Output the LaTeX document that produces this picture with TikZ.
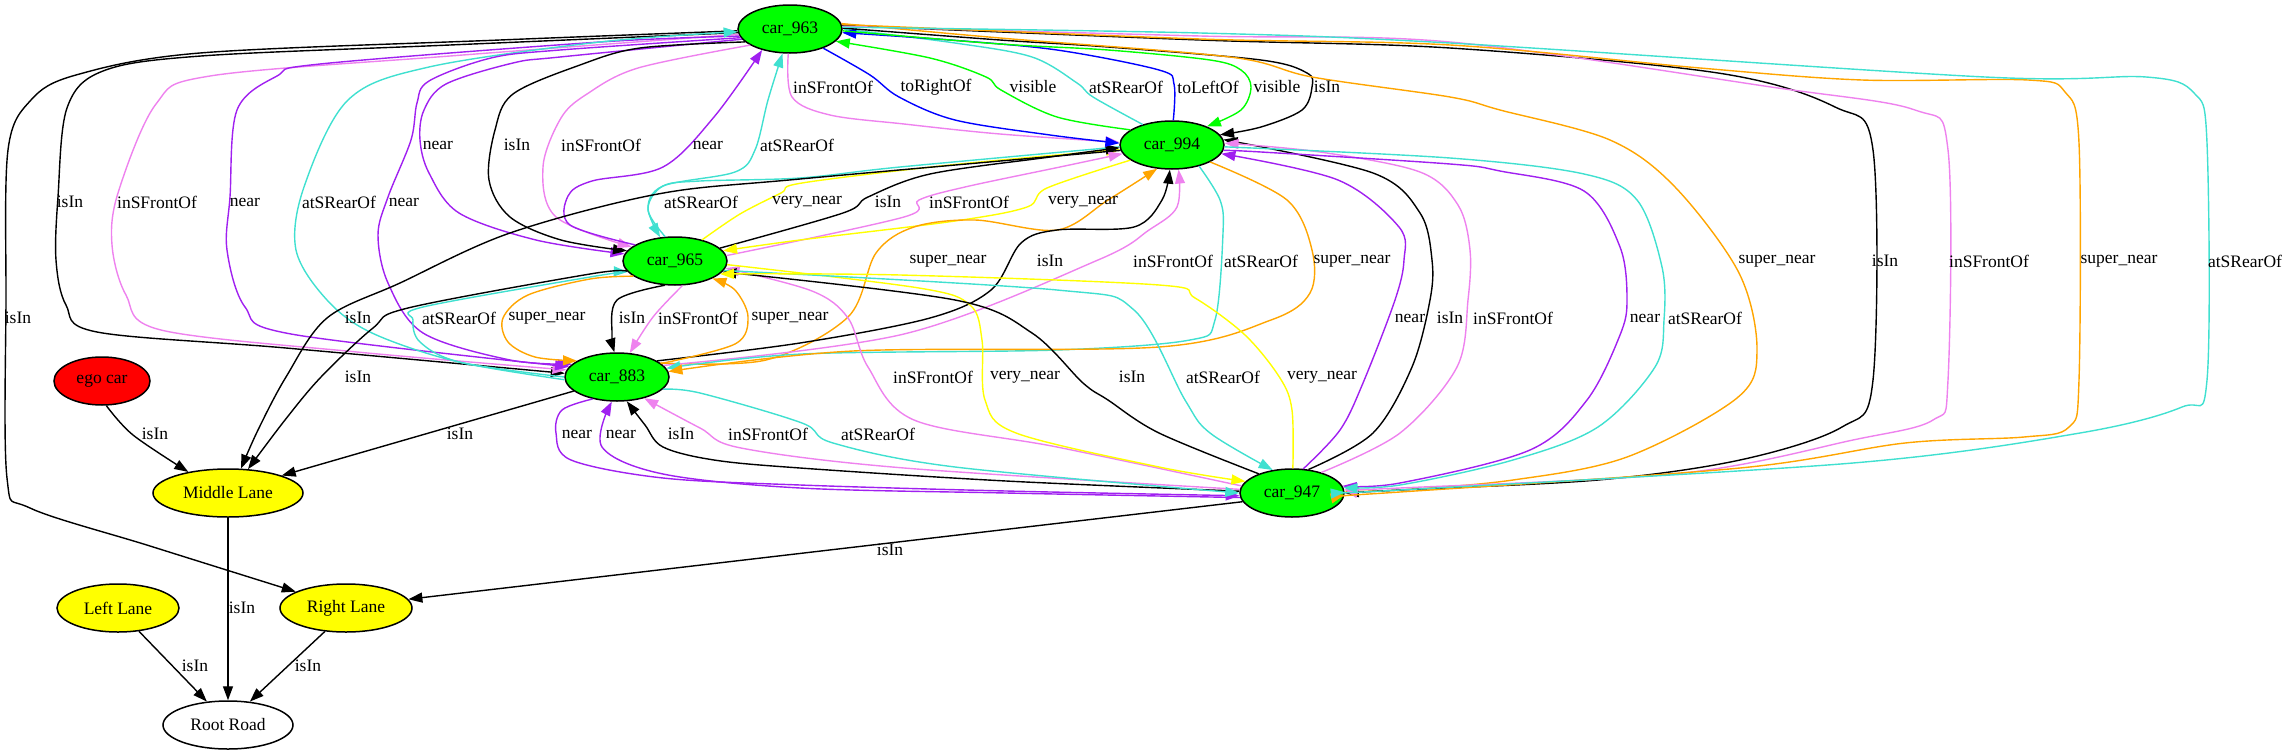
\documentclass[tikz,border=0pt]{standalone}
\usepackage{fontspec}
\setmainfont{Liberation Serif}
\usetikzlibrary{shapes.geometric,arrows.meta}
\definecolor{gvGreen}{HTML}{00FF00}
\definecolor{gvViolet}{HTML}{EE82EE}
\definecolor{gvPurple}{HTML}{A020F0}
\definecolor{gvTurq}{HTML}{40E0D0}
\definecolor{gvYellow}{HTML}{FFFF00}
\definecolor{gvOrange}{HTML}{FFA500}
\definecolor{gvBlue}{HTML}{0000FF}
\definecolor{gvRed}{HTML}{FF0000}
\newcommand\gvfont{\fontsize{17.5}{20}\selectfont}
\begin{document}
\begin{tikzpicture}[x=1pt,y=-1pt,
  gnode/.style={ellipse, draw, line width=1.5pt, inner sep=0pt, minimum height=48pt, font=\gvfont},
  car/.style={gnode, fill=gvGreen, minimum width=104pt},
  lane/.style={gnode, fill=gvYellow},
  e/.style={line width=1.4pt, -{Triangle[length=14pt,width=10pt]}},
  isin/.style={e, black},
  front/.style={e, gvViolet},
  nearr/.style={e, gvPurple},
  rear/.style={e, gvTurq},
  vnear/.style={e, gvYellow},
  snear/.style={e, gvOrange},
  vis/.style={e, gvGreen},
  rdir/.style={e, gvBlue},
  lbl/.style={inner sep=0pt, font=\gvfont},
  sm/.style={smooth, tension=0.55}]
\useasboundingbox (0,0) rectangle (2289,755);
% nodes
\node[car] (c963) at (790,29) {car\_963};
\node[car] (c994) at (1172,145) {car\_994};
\node[car] (c965) at (675,261) {car\_965};
\node[car] (c883) at (617,377) {car\_883};
\node[car] (c947) at (1292,493) {car\_947};
\node[gnode, fill=gvRed, minimum width=96pt] (ego) at (102,381) {ego car};
\node[lane, minimum width=150pt] (mid) at (228,493) {Middle Lane};
\node[lane, minimum width=122pt] (left) at (118,608) {Left Lane};
\node[lane, minimum width=132pt] (right) at (346,608) {Right Lane};
\node[gnode, fill=white, minimum width=130pt] (root) at (228,725) {Root Road};
% edges
\draw[isin] plot[sm] coordinates {(c963.182) (500,40) (200,53) (76,75) (31,100) (8,150) (6,300) (7,478) (30,508) (150,546) (right.162)};
\draw[isin] plot[sm] coordinates {(c963.184) (450,45) (201,56) (103,71) (67,108) (58,197) (56,260) (66,305) (97,332) (286,348) (c883.176)};
\draw[front] plot[sm] coordinates {(c963.186) (450,56) (210,76) (156,104) (118,193) (112,245) (126,295) (161,330) (357,352) (c883.172)};
\draw[nearr] plot[sm] coordinates {(c963.188) (600,42) (320,64) (277,76) (237,110) (230,197) (227,250) (245,307) (291,334) (c883.168)};
\draw[rear] plot[sm] coordinates {(c883.180) (459,362) (372,333) (327,300) (296,250) (304,187) (348,100) (429,67) (600,42) (c963.183)};
\draw[nearr] plot[sm] coordinates {(c963.190) (560,50) (491,58) (429,81) (417,103) (411,140) (388,197) (378,235) (388,283) (423,333) (510,360) (c883.164)};
\draw[nearr] plot[sm] coordinates {(c963.192) (560,57) (513,63) (446,84) (424,110) (420,140) (429,173) (459,213) (536,240) (c965.172)};
\draw[isin] plot[sm] coordinates {(c963.196) (640,48) (580,65) (513,94) (495,130) (489,180) (510,217) (561,240) (c965.168)};
\draw[front] plot[sm] coordinates {(c963.202) (638,68) (587,94) (561,118) (543,167) (556,217) (c965.162)};
\draw[nearr] plot[sm] coordinates {(c965.158) (570,225) (568,196) (592,181) (663,167) (714,117) (c963.217)};
\draw[rear] plot[sm] coordinates {(c965.112) (648,210) (663,186) (735,172) (755,150) (768,100) (c963.253)};
\draw[rear] plot[sm] coordinates {(c994.182) (900,167) (800,178) (700,181) (663,186) (648,208) (c965.122)};
\draw[vnear] plot[sm] coordinates {(c965.38) (740,214) (781,193) (802,183) (950,165) (c994.185)};
\draw[isin] plot[sm] coordinates {(c965.16) (843,213) (868,197) (930,174) (1050,157) (c994.183)};
\draw[front] plot[sm] coordinates {(c965.6) (904,217) (919,200) (965,187) (1060,167) (c994.190)};
\draw[vnear] plot[sm] coordinates {(c994.200) (1047,188) (1027,207) (955,221) (800,240) (c965.12)};
\draw[front] plot[sm] coordinates {(c963.266) (792,97) (830,115) (904,124) (1000,134) (c994.177)};
\draw[rdir] plot[sm] coordinates {(c963.330) (870,75) (899,97) (955,120) (1050,135) (c994.178)};
\draw[vis] plot[sm] coordinates {(c994.160) (1057,117) (1001,90) (986,77) (930,58) (c963.345)};
\draw[rear] plot[sm] coordinates {(c994.145) (1093,97) (1077,83) (1032,57) (955,43) (c963.0)};
\draw[rdir] plot[sm] coordinates {(c994.87) (1174,84) (1159,70) (1057,50) (950,40) (c963.356)};
\draw[vis] plot[sm] coordinates {(c963.358) (1000,44) (1108,50) (1210,60) (1241,70) (1251,87) (1241,110) (c994.28)};
\draw[isin] plot[sm] coordinates {(c963.1) (1000,40) (1108,47) (1261,60) (1307,73) (1312,87) (1302,110) (1261,127) (c994.12)};
\draw[snear] plot[sm] coordinates {(c963.6) (1000,38) (1230,57) (1312,77) (1450,97) (1500,110) (1610,140) (1675,187) (1739,273) (1757,350) (1737,398) (1627,457) (1513,480) (1400,490) (c947.2)};
\draw[isin] plot[sm] coordinates {(c963.4) (1200,40) (1450,48) (1718,73) (1835,107) (1873,150) (1873,380) (1842,427) (1740,460) (1598,480) (1400,490) (c947.0)};
\draw[front] plot[sm] coordinates {(c963.3) (1200,36) (1450,42) (1771,87) (1915,110) (1948,150) (1948,380) (1933,420) (1853,440) (1683,473) (1400,488) (c947.4)};
\draw[snear] plot[sm] coordinates {(c963.5) (1200,39) (1450,45) (1700,68) (1862,80) (2028,80) (2065,92) (2079,143) (2079,380) (2069,427) (2024,437) (1905,443) (1740,468) (1400,492) (c947.358)};
\draw[rear] plot[sm] coordinates {(c963.2) (1200,33) (1450,43) (1985,77) (2146,77) (2194,93) (2207,143) (2207,380) (2182,407) (2080,433) (1853,463) (1400,490) (c947.1)};
\draw[snear] plot[sm] coordinates {(c883.18) (766,360) (848,317) (876,253) (914,227) (975,220) (1057,230) (1108,200) (c994.238)};
\draw[isin] plot[sm] coordinates {(c883.22) (800,343) (930,318) (991,290) (1021,243) (1057,230) (1134,227) (1162,200) (c994.265)};
\draw[front] plot[sm] coordinates {(c883.14) (904,334) (1098,260) (1149,230) (1177,207) (c994.285)};
\draw[rear] plot[sm] coordinates {(c994.322) (1220,200) (1223,233) (1215,320) (1190,340) (1057,350) (802,354) (c883.10)};
\draw[snear] plot[sm] coordinates {(c994.336) (1287,200) (1312,250) (1310,293) (1271,320) (1159,347) (853,351) (c883.6)};
\draw[nearr] plot[sm] coordinates {(c947.65) (1340,430) (1363,383) (1395,300) (1404,260) (1399,227) (1338,180) (c994.350)};
\draw[isin] plot[sm] coordinates {(c947.55) (1373,433) (1412,367) (1430,300) (1432,260) (1420,213) (1373,173) (c994.6)};
\draw[front] plot[sm] coordinates {(c947.35) (1400,433) (1457,367) (1468,300) (1470,250) (1458,205) (1420,172) (1320,152) (c994.2)};
\draw[nearr] plot[sm] coordinates {(c994.354) (1261,152) (1450,164) (1500,171) (1584,191) (1620,247) (1627,300) (1620,335) (1587,400) (1530,450) (1400,483) (c947.8)};
\draw[rear] plot[sm] coordinates {(c994.358) (1450,158) (1584,174) (1637,200) (1662,267) (1664,320) (1655,367) (1598,427) (1513,460) (1400,485) (c947.6)};
\draw[front] plot[sm] coordinates {(c947.172) (1057,447) (914,420) (868,367) (848,318) (812,291) (c965.352)};
\draw[vnear] plot[sm] coordinates {(c965.356) (919,288) (970,305) (982,340) (985,400) (1016,433) (1159,467) (c947.166)};
\draw[isin] plot[sm] coordinates {(c947.150) (1159,433) (1108,400) (1083,383) (1032,333) (955,300) (c965.347)};
\draw[rear] plot[sm] coordinates {(c965.349) (1057,290) (1134,310) (1185,400) (1210,433) (c947.130)};
\draw[vnear] plot[sm] coordinates {(c947.88) (1292,410) (1280,378) (1245,335) (1195,298) (1159,285) (900,275) (c965.344)};
\draw[rear] plot[sm] coordinates {(c883.183) (459,362) (420,342) (413,320) (423,307) (590,277) (c965.193)};
\draw[snear] plot[sm] coordinates {(c965.200) (590,279) (528,295) (503,318) (508,342) (535,357) (c883.158)};
\draw[isin] plot[sm] coordinates {(c965.247) (617,300) (612,335) (c883.96)};
\draw[front] plot[sm] coordinates {(c965.287) (653,317) (c883.62)};
\draw[snear] plot[sm] coordinates {(c883.17) (735,344) (748,317) (735,290) (c965.335)};
\draw[isin] plot[sm] coordinates {(c965.192) (590,274) (408,308) (373,328) (321,377) (285,420) (mid.50)};
\draw[isin] plot[sm] coordinates {(c994.186) (800,179) (658,194) (510,233) (400,283) (327,318) (286,377) (258,430) (mid.62)};
\draw[isin] (c883.198) -- (mid.18);
\draw[isin] plot[sm] coordinates {(ego.280) (133,435) (mid.152)};
\draw[isin] (c947.190) -- (right.8);
\draw[isin] (mid.south) -- (root.north);
\draw[isin] (left.312) -- (root.132);
\draw[isin] (right.228) -- (root.47);
\draw[nearr] plot[sm] coordinates {(c883.222) (562,410) (556,433) (571,460) (663,478) (800,485) (1006,491) (c947.183)};
\draw[nearr] plot[sm] coordinates {(c947.185) (1006,493) (800,488) (663,474) (602,447) (c883.258)};
\draw[isin] plot[sm] coordinates {(c947.178) (1006,481) (800,468) (714,460) (663,447) (645,425) (c883.292)};
\draw[front] plot[sm] coordinates {(c947.176) (904,468) (741,448) (700,428) (c883.322)};
\draw[rear] plot[sm] coordinates {(c883.345) (700,393) (802,423) (833,443) (955,467) (c947.180)};
% labels
\node[lbl] (l01) at (833,87) {inSFrontOf};
\node[lbl] (l02) at (936,87) {toRightOf};
\node[lbl] (l03) at (1033,87) {visible};
\node[lbl] (l04) at (1126,87) {atSRearOf};
\node[lbl] (l05) at (1208,87) {toLeftOf};
\node[lbl] (l06) at (1277,87) {visible};
\node[lbl] (l07) at (1327,87) {isIn};
\node[lbl] (l08) at (438,145) {near};
\node[lbl] (l09) at (517,145) {isIn};
\node[lbl] (l10) at (601,145) {inSFrontOf};
\node[lbl] (l11) at (708,145) {near};
\node[lbl] (l12) at (797,145) {atSRearOf};
\node[lbl] (l13) at (70,202) {isIn};
\node[lbl] (l14) at (157,202) {inSFrontOf};
\node[lbl] (l15) at (245,202) {near};
\node[lbl] (l16) at (339,202) {atSRearOf};
\node[lbl] (l17) at (404,202) {near};
\node[lbl] (l18) at (701,202) {atSRearOf};
\node[lbl] (l19) at (807,202) {very\_near};
\node[lbl] (l20) at (888,202) {isIn};
\node[lbl] (l21) at (969,202) {inSFrontOf};
\node[lbl] (l22) at (1083,202) {very\_near};
\node[lbl] (l23) at (948,261) {super\_near};
\node[lbl] (l24) at (1050,261) {isIn};
\node[lbl] (l25) at (1173,261) {inSFrontOf};
\node[lbl] (l26) at (1261,261) {atSRearOf};
\node[lbl] (l27) at (1352,261) {super\_near};
\node[lbl] (l28) at (1777,261) {super\_near};
\node[lbl] (l29) at (1885,261) {isIn};
\node[lbl] (l30) at (1989,261) {inSFrontOf};
\node[lbl] (l31) at (2119,261) {super\_near};
\node[lbl] (l32) at (2245,261) {atSRearOf};
\node[lbl] (l33) at (18,318) {isIn};
\node[lbl] (l34) at (358,318) {isIn};
\node[lbl] (l35) at (459,318) {atSRearOf};
\node[lbl] (l36) at (547,318) {super\_near};
\node[lbl] (l37) at (632,318) {isIn};
\node[lbl] (l38) at (698,318) {inSFrontOf};
\node[lbl] (l39) at (790,318) {super\_near};
\node[lbl] (l40) at (1410,318) {near};
\node[lbl] (l41) at (1450,318) {isIn};
\node[lbl] (l42) at (1513,318) {inSFrontOf};
\node[lbl] (l43) at (1645,318) {near};
\node[lbl] (l44) at (1705,318) {atSRearOf};
\node[lbl] (l45) at (358,377) {isIn};
\node[lbl] (l46) at (933,377) {inSFrontOf};
\node[lbl] (l47) at (1025,377) {very\_near};
\node[lbl] (l48) at (1132,377) {isIn};
\node[lbl] (l49) at (1223,377) {atSRearOf};
\node[lbl] (l50) at (1322,377) {very\_near};
\node[lbl] (l51) at (155,434) {isIn};
\node[lbl] (l52) at (460,434) {isIn};
\node[lbl] (l53) at (577,434) {near};
\node[lbl] (l54) at (621,434) {near};
\node[lbl] (l55) at (681,434) {isIn};
\node[lbl] (l56) at (768,434) {inSFrontOf};
\node[lbl] (l57) at (878,434) {atSRearOf};
\node[lbl] (l58) at (890,550) {isIn};
\node[lbl] (l59) at (242,608) {isIn};
\node[lbl] (l60) at (195,666) {isIn};
\node[lbl] (l61) at (308,666) {isIn};
\end{tikzpicture}
\end{document}
